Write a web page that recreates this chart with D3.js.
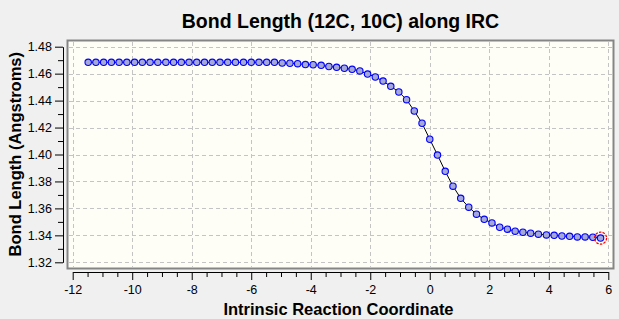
<!DOCTYPE html>
<html>
<head>
<meta charset="utf-8">
<script src="https://cdn.jsdelivr.net/npm/d3@7"></script>
<style>
  html, body { margin: 0; padding: 0; background: #f0f0f0; }
  svg { display: block; }
  text { font-family: "Liberation Sans", Arial, sans-serif; }
</style>
</head>
<body>
<svg id="chart" width="619" height="319"></svg>
<script>
// ---- Data ----
const title = "Bond Length (12C, 10C) along IRC";
const xLabel = "Intrinsic Reaction Coordinate";
const yLabel = "Bond Length (Angstroms)";

const ircCoord = [
  -11.48, -11.22, -10.96, -10.70, -10.44, -10.18, -9.92, -9.66, -9.40, -9.14,
  -8.87, -8.61, -8.35, -8.09, -7.83, -7.57, -7.31, -7.05, -6.79, -6.53,
  -6.26, -6.00, -5.74, -5.48, -5.22, -4.96, -4.70, -4.44, -4.18, -3.92,
  -3.65, -3.39, -3.13, -2.87, -2.61, -2.35, -2.09, -1.83, -1.57, -1.31,
  -1.04, -0.78, -0.52, -0.26, 0.00, 0.26, 0.52, 0.78, 1.04, 1.31,
  1.57, 1.83, 2.09, 2.35, 2.61, 2.87, 3.13, 3.39, 3.65, 3.92,
  4.18, 4.44, 4.70, 4.96, 5.22, 5.48, 5.74
];
const bondLength = [
  1.4684, 1.4684, 1.4684, 1.4684, 1.4684, 1.4684, 1.4684, 1.4684, 1.4684, 1.4684,
  1.4684, 1.4684, 1.4684, 1.4684, 1.4684, 1.4684, 1.4684, 1.4684, 1.4684, 1.4684,
  1.4684, 1.4684, 1.4684, 1.4684, 1.4684, 1.4679, 1.4677, 1.4674, 1.4667, 1.4666,
  1.4662, 1.4653, 1.4647, 1.4640, 1.4632, 1.4620, 1.4597, 1.4575, 1.4545, 1.4506,
  1.4464, 1.4407, 1.4323, 1.4232, 1.4113, 1.3996, 1.3875, 1.3765, 1.3675, 1.3609,
  1.3557, 1.3519, 1.3492, 1.3460, 1.3446, 1.3431, 1.3423, 1.3416, 1.3409, 1.3403,
  1.3400, 1.3395, 1.3393, 1.3388, 1.3388, 1.3386, 1.3380
];
const xMajorTicks = [-12, -10, -8, -6, -4, -2, 0, 2, 4, 6];
const xMinorTicks = [-11.5, -11, -10.5, -9.5, -9, -8.5, -7.5, -7, -6.5, -5.5, -5, -4.5,
  -3.5, -3, -2.5, -1.5, -1, -0.5, 0.5, 1, 1.5, 2.5, 3, 3.5, 4.5, 5, 5.5];
const yMajorTicks = [1.32, 1.34, 1.36, 1.38, 1.40, 1.42, 1.44, 1.46, 1.48];
const yMinorTicks = [1.33, 1.35, 1.37, 1.39, 1.41, 1.43, 1.45, 1.47];
const highlightIndex = ircCoord.length - 1;

// ---- Drawing ----
const svg = d3.select("#chart");
const W = 619, H = 319;
svg.append("rect").attr("width", W).attr("height", H).attr("fill", "#f0f0f0");

const plot = { left: 68, top: 41, right: 613, bottom: 268 };

const x = d3.scaleLinear().domain([-12, 6]).range([72.7, 608.3]);
const y = d3.scaleLinear().domain([1.32, 1.48]).range([262.3, 46.7]);

// plot background
svg.append("rect")
  .attr("x", plot.left).attr("y", plot.top)
  .attr("width", plot.right - plot.left).attr("height", plot.bottom - plot.top)
  .attr("fill", "#fefef6").attr("stroke", "none");

// grid
const grid = svg.append("g").attr("stroke", "#c4c4c4").attr("stroke-width", 1)
  .attr("stroke-dasharray", "4,3").attr("shape-rendering", "crispEdges");
grid.selectAll("line.v").data(xMajorTicks).join("line")
  .attr("x1", d => Math.round(x(d)) + 0.5).attr("x2", d => Math.round(x(d)) + 0.5)
  .attr("y1", plot.top + 1).attr("y2", plot.bottom - 1);
grid.selectAll("line.h").data(yMajorTicks).join("line")
  .attr("y1", d => Math.round(y(d)) + 0.5).attr("y2", d => Math.round(y(d)) + 0.5)
  .attr("x1", plot.left + 1).attr("x2", plot.right - 1);

// frame
svg.append("rect")
  .attr("x", plot.left - 0.5).attr("y", plot.top - 0.5)
  .attr("width", plot.right - plot.left + 1).attr("height", plot.bottom - plot.top + 1)
  .attr("fill", "none").attr("stroke", "#858585").attr("stroke-width", 2);

// data
const pts = ircCoord.map((c, i) => ({ x: c, y: bondLength[i] }));
svg.append("path")
  .datum(pts)
  .attr("fill", "none").attr("stroke", "#000").attr("stroke-width", 1)
  .attr("d", d3.line().x(d => x(d.x)).y(d => y(d.y)));

svg.append("g").selectAll("circle").data(pts).join("circle")
  .attr("cx", d => x(d.x)).attr("cy", d => y(d.y)).attr("r", 3.2)
  .attr("fill", "#a6aad2").attr("stroke", "#0000ff").attr("stroke-width", 1.1);

svg.append("circle")
  .attr("cx", x(pts[highlightIndex].x)).attr("cy", y(pts[highlightIndex].y)).attr("r", 6)
  .attr("fill", "none").attr("stroke", "#ff0000").attr("stroke-width", 1.3)
  .attr("stroke-dasharray", "2.5,1.2");

// axes
const axisFont = "12.5px";
const xAxisY = 272;
svg.append("g").attr("transform", `translate(0,${xAxisY})`)
  .call(d3.axisBottom(x).tickValues(xMajorTicks).tickSize(8).tickSizeOuter(0)
    .tickPadding(5).tickFormat(d => String(d)));
svg.append("g").attr("transform", `translate(0,${xAxisY})`)
  .call(d3.axisBottom(x).tickValues(xMinorTicks).tickSize(5).tickSizeOuter(0).tickFormat(""))
  .select(".domain").remove();

const yAxisX = 63;
svg.append("g").attr("transform", `translate(${yAxisX},0)`)
  .call(d3.axisLeft(y).tickValues(yMajorTicks).tickSize(8).tickSizeOuter(0)
    .tickPadding(3).tickFormat(d3.format(".2f")));
svg.append("g").attr("transform", `translate(${yAxisX},0)`)
  .call(d3.axisLeft(y).tickValues(yMinorTicks).tickSize(5).tickSizeOuter(0).tickFormat(""))
  .select(".domain").remove();

svg.selectAll(".tick text").attr("font-size", axisFont).attr("fill", "#000")
  .attr("font-family", "'Liberation Sans', Arial, sans-serif");
svg.selectAll(".tick line, .domain").attr("stroke", "#000");

// titles
svg.append("text").attr("x", 340.5).attr("y", 28.3).attr("text-anchor", "middle")
  .attr("font-size", "19.5px").attr("font-weight", "bold").text(title);
svg.append("text").attr("x", 338.5).attr("y", 315).attr("text-anchor", "middle")
  .attr("font-size", "16.5px").attr("font-weight", "bold").text(xLabel);
svg.append("text").attr("transform", "translate(20.5,154.2) rotate(-90)")
  .attr("text-anchor", "middle")
  .attr("font-size", "16.5px").attr("font-weight", "bold").text(yLabel);
</script>
</body>
</html>
